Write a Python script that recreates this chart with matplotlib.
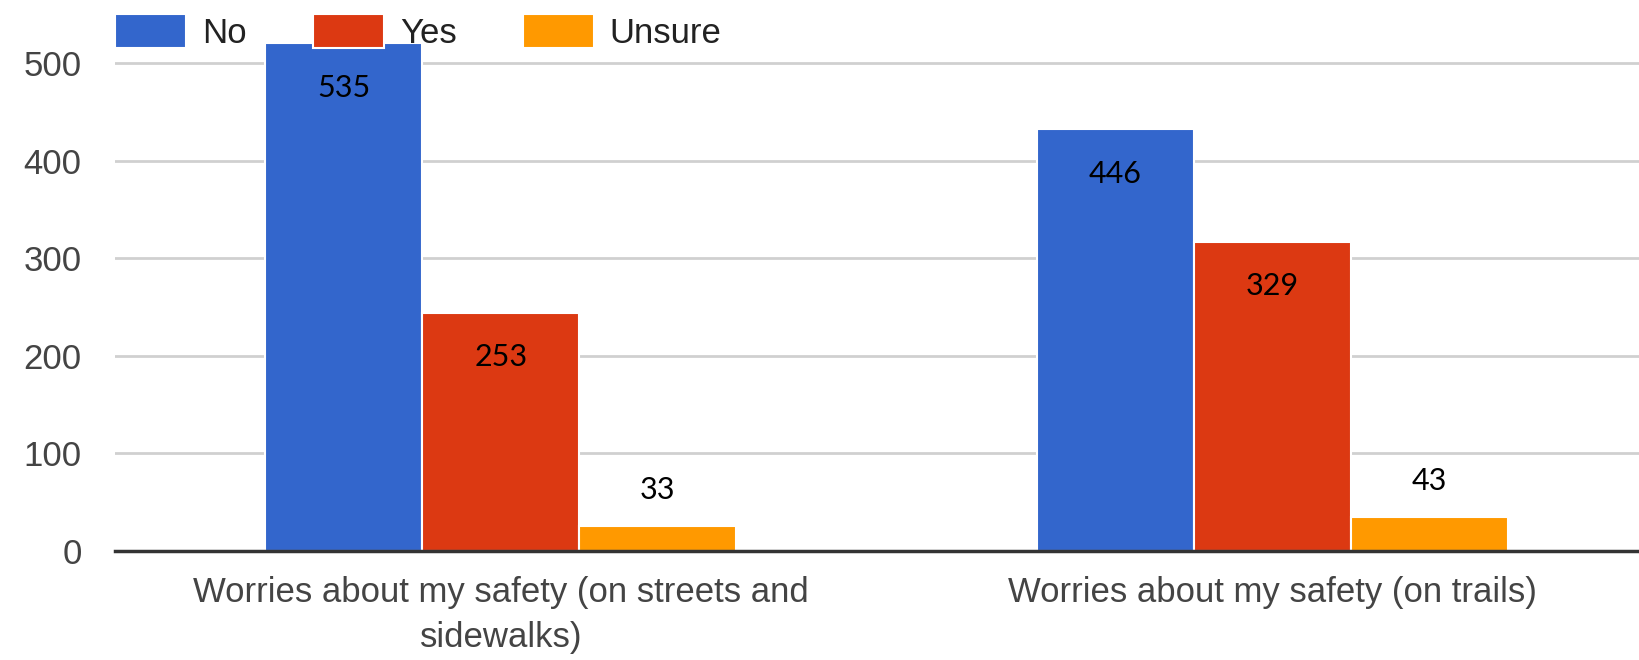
import matplotlib
matplotlib.use('Agg')
import numpy as np
import matplotlib.pyplot as plt

# Data
categories = ['Worries about my safety (on streets and\nsidewalks)',
              'Worries about my safety (on trails)']
series = ['No', 'Yes', 'Unsure']
bar_no = [520, 432]
bar_yes = [244, 317]
bar_unsure = [26, 35]
label_no = ['535', '446']
label_yes = ['253', '329']
label_unsure = ['33', '43']
yticks = [0, 100, 200, 300, 400, 500]

colors = ['#3366CC', '#DC3912', '#FF9900']
plt.rcParams['font.family'] = ['Liberation Sans', 'DejaVu Sans']

fig = plt.figure(figsize=(16.39, 6.6), dpi=100)
ax = fig.add_axes([115 / 1639, 109 / 660, 1 - 115 / 1639, 551 / 660])

x = np.arange(len(categories))
w = 0.2034
for i, (vals, labs) in enumerate(zip([bar_no, bar_yes, bar_unsure],
                                     [label_no, label_yes, label_unsure])):
    b = ax.bar(x + (i - 1) * w, vals, w, color=colors[i], edgecolor='white',
               linewidth=1.5, label=series[i], zorder=3)
    for rect, lab in zip(b, labs):
        h = rect.get_height()
        cx = rect.get_x() + rect.get_width() / 2
        # big bars get the number inside, small ones above
        off = -32 if h > 100 else 26
        ax.annotate(lab, (cx, h), xytext=(0, off), textcoords='offset points',
                    ha='center', va='center', fontsize=22, family='Lato',
                    color='black', zorder=5)

ax.set_xlim(-0.5, 1.475)
ax.set_ylim(0, 564.5)
ax.set_yticks(yticks)
ax.set_xticks(x)
ax.set_xticklabels(categories, fontsize=25, color='#444444', linespacing=1.45)
ax.tick_params(axis='y', length=0, pad=24, labelsize=25, labelcolor='#444444')
ax.tick_params(axis='x', length=0, pad=18)

ax.grid(True, axis='y', color='#d0d0d0', linewidth=2, zorder=0)
for s in ['top', 'right', 'left']:
    ax.spines[s].set_visible(False)
ax.spines['bottom'].set_color('#333333')
ax.spines['bottom'].set_linewidth(2.5)
ax.spines['bottom'].set_zorder(4)

leg = fig.legend(loc='upper left', bbox_to_anchor=(101 / 1639, 1.0), ncol=3,
                 frameon=False, fontsize=25, handlelength=2.05,
                 handleheight=1.15, handletextpad=0.46, columnspacing=1.9,
                 borderaxespad=0, borderpad=0.4)
for t in leg.get_texts():
    t.set_color('#222222')

plt.savefig('out.png', dpi=100)
